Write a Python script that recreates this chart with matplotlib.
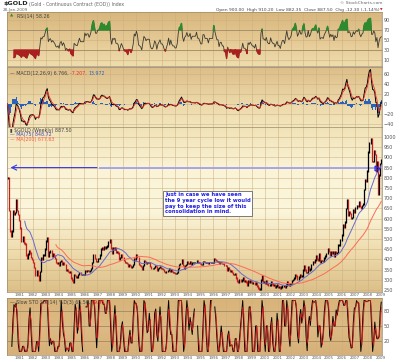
import numpy as np
import pandas as pd
import matplotlib

matplotlib.use("Agg")
import matplotlib.pyplot as plt
from matplotlib.colors import LinearSegmentedColormap

# monthly closes, Jan 1980 .. Jan 2009
gold_1980s = [
    800, 640, 540, 515, 540, 640, 620, 630, 690, 640, 620, 590,
    555, 490, 510, 480, 475, 420, 405, 425, 440, 430, 410, 400,
    385, 360, 320, 345, 320, 300, 340, 410, 400, 420, 420, 450,
    490, 505, 415, 435, 440, 415, 425, 415, 405, 385, 380, 385,
    370, 390, 395, 375, 385, 375, 345, 350, 340, 335, 340, 310,
    300, 290, 325, 320, 315, 315, 325, 335, 325, 325, 325, 325,
    345, 340, 345, 345, 340, 345, 355, 385, 420, 405, 390, 390,
    405, 405, 420, 450, 455, 450, 460, 455, 460, 465, 485, 495,
    455, 430, 455, 450, 455, 435, 435, 430, 400, 410, 420, 410,
    395, 385, 385, 380, 365, 375, 370, 360, 365, 375, 405, 400,
]
gold_1990s = [
    420, 410, 375, 370, 365, 350, 370, 395, 390, 380, 385, 385,
    385, 365, 355, 355, 360, 370, 365, 345, 355, 360, 365, 355,
    355, 350, 340, 335, 340, 345, 355, 340, 350, 340, 335, 335,
    330, 330, 335, 355, 375, 380, 400, 370, 355, 370, 375, 390,
    380, 380, 390, 375, 385, 385, 385, 385, 395, 385, 385, 380,
    375, 375, 390, 390, 385, 385, 385, 380, 385, 385, 385, 385,
    405, 400, 395, 390, 390, 380, 385, 385, 380, 380, 370, 370,
    345, 360, 350, 340, 345, 335, 325, 325, 330, 310, 295, 290,
    300, 295, 300, 310, 295, 295, 290, 275, 295, 290, 295, 290,
    285, 285, 280, 285, 270, 260, 255, 255, 300, 320, 290, 290,
]
gold_2000s = [
    285, 295, 280, 275, 275, 290, 280, 275, 275, 265, 270, 275,
    265, 265, 258, 265, 270, 270, 265, 275, 290, 280, 275, 278,
    282, 297, 302, 308, 326, 318, 305, 312, 325, 318, 318, 347,
    367, 348, 335, 336, 364, 346, 354, 375, 388, 386, 398, 416,
    403, 397, 425, 388, 394, 395, 392, 407, 416, 428, 452, 438,
    422, 435, 428, 435, 418, 437, 430, 433, 470, 470, 495, 518,
    570, 556, 582, 650, 690, 615, 633, 625, 600, 605, 645, 632,
    652, 665, 662, 680, 660, 650, 665, 672, 743, 790, 785, 834,
    925, 970, 990, 880, 880, 930, 915, 830, 880, 720, 815, 870,
    890,
]

year_ticks = list(range(1981, 2010))
price_ticks = list(range(250, 1001, 50))
rsi_ticks = [10, 30, 50, 70, 90]
macd_ticks = [-40, -20, 0, 20, 40, 60]
sto_ticks = [20, 50, 80]

close = pd.Series(gold_1980s + gold_1990s + gold_2000s, dtype=float)
t = 1980 + (np.arange(len(close)) + 0.5) / 12

# indicators (monthly stand-ins for the weekly settings)
ma75 = close.rolling(17).mean()
ma200 = close.rolling(46).mean()
diff = close.diff()
up = diff.clip(lower=0).ewm(alpha=1 / 7, adjust=False).mean()
dn = (-diff.clip(upper=0)).ewm(alpha=1 / 7, adjust=False).mean()
rsi = (100 - 100 / (1 + up / dn)).to_numpy()
rsi[:6] = np.nan  # warm-up
macd = close.ewm(span=4, adjust=False).mean() - close.ewm(span=8, adjust=False).mean()
signal = macd.ewm(span=3, adjust=False).mean()
hist = macd - signal
lo = close.rolling(4).min()
hi = close.rolling(4).max()
fast_k = 100 * (close - lo) / (hi - lo)
slow_k = fast_k.rolling(2).mean()
slow_d = slow_k.rolling(2).mean()

fig = plt.figure(figsize=(4.0, 3.62), dpi=100)
fig.patch.set_facecolor("white")


def box(top, bottom):
    return [7 / 400, 1 - bottom / 362, 375 / 400, (bottom - top) / 362]


def paint(ax, colors):
    cmap = LinearSegmentedColormap.from_list("bg", colors)
    grad = np.linspace(0, 1, 256).reshape(-1, 1)
    ax.imshow(grad, cmap=cmap, extent=(0, 1, 0, 1), transform=ax.transAxes,
              aspect="auto", origin="upper", zorder=0)


def style(ax, ticks, ylim, xlabels=False):
    ax.set_xlim(1980.0, 2009.1)
    ax.set_ylim(*ylim)
    ax.set_yticks(ticks)
    ax.set_xticks(year_ticks)
    ax.yaxis.tick_right()
    ax.tick_params(length=0, labelsize=3.5, colors="#555555", pad=1.2)
    ax.tick_params(axis="x", labelsize=2.9, pad=0.8)
    if not xlabels:
        ax.set_xticklabels([])
    ax.grid(True, color="#c9ae7e", lw=0.5, alpha=0.7)
    for s in ax.spines.values():
        s.set_color("#9a8a6a")
        s.set_linewidth(0.5)


ax_rsi = fig.add_axes(box(12, 66))
ax_macd = fig.add_axes(box(67, 127))
ax_px = fig.add_axes(box(127, 292))
ax_sto = fig.add_axes(box(298, 355))

# RSI panel
paint(ax_rsi, ["#d8b67c", "#e4c893", "#efdcad"])
ax_rsi.plot(t, rsi, color="#3a3a30", lw=0.6, zorder=3)
ax_rsi.fill_between(t, rsi, 70, where=rsi > 70, interpolate=True, color="#2f8a2f", zorder=3)
ax_rsi.fill_between(t, rsi, 30, where=rsi < 30, interpolate=True, color="#a82020", zorder=3)
for lvl in (30, 70):
    ax_rsi.axhline(lvl, color="#a08a66", lw=0.6, zorder=2)
style(ax_rsi, rsi_ticks, (-2, 106))
ax_rsi.text(0.008, 0.97, "\u25b2", transform=ax_rsi.transAxes, fontsize=3.0,
            color="#2f8a2f", va="top", zorder=5)
ax_rsi.text(0.026, 0.97, "RSI(14) 58.26", transform=ax_rsi.transAxes, fontsize=3.4,
            color="#444444", va="top", zorder=5)

# MACD panel
paint(ax_macd, ["#dcbd86", "#ead4a4", "#f3e6bd"])
ax_macd.bar(t, hist, width=1 / 12, color="#2a62b8", zorder=2)
ax_macd.plot(t, macd, color="black", lw=0.7, zorder=3)
ax_macd.plot(t, signal, color="#e8302a", lw=0.6, zorder=3)
style(ax_macd, macd_ticks, (-46, 74))
m1 = ax_macd.text(0.008, 0.93, "\u2014 MACD(12,26,9) 6.766, ", transform=ax_macd.transAxes,
                  fontsize=3.4, color="#444444", va="top", zorder=5)
m2 = ax_macd.annotate("-7.207, ", xy=(1, 0), xycoords=m1, fontsize=3.4, color="#e8302a",
                      va="bottom", zorder=5)
ax_macd.annotate("13.972", xy=(1, 0), xycoords=m2, fontsize=3.4, color="#2a62b8",
                 va="bottom", zorder=5)

# price panel
paint(ax_px, ["#f1e3b8", "#faf3d6", "#fbf6dc", "#efdcae", "#dcbf88"])
c = close.to_numpy()
prev = np.r_[c[0], c[:-1]]
cols = np.where(c >= prev, "black", "#c81e1e")
ax_px.vlines(t, np.minimum(prev, c) - 4, np.maximum(prev, c) + 4, colors=cols, lw=0.9, zorder=3)
ax_px.plot(t, ma75, color="#6a6acb", lw=0.7, zorder=4)
ax_px.plot(t, ma200, color="#ff6a55", lw=0.7, zorder=4)
style(ax_px, price_ticks, (240, 1049), xlabels=True)

# the 1980 high, carried across
ax_px.annotate("", xy=(1980.05, 850), xytext=(1987.2, 850),
               arrowprops=dict(arrowstyle="->", color="#3a3ae6", lw=0.8, mutation_scale=9),
               zorder=5)
ax_px.plot([1987.2, 2008.6], [850, 850], color="#a4a4ea", lw=1.4, zorder=2)
ax_px.plot([2008.75], [850], marker=">", ms=3.5, mfc="none", mec="#2a2aee", mew=0.9, zorder=6)
ax_px.text(1992.25, 728,
           "Just in case we have seen\nthe 9 year cycle low it would\npay to keep the size of this\nconsolidation in mind.",
           fontsize=3.8, color="#2020e0", fontweight="bold", va="top", ha="left", linespacing=1.15,
           bbox=dict(boxstyle="square,pad=0.35", fc="white", ec="#666666", lw=0.6), zorder=7)

ax_px.text(0.008, 0.995, "\u25ae $GOLD (Weekly) 887.50", transform=ax_px.transAxes, fontsize=3.4,
           color="#444444", va="top", zorder=5)
ax_px.text(0.008, 0.967, "\u2014 MA(75) 848.72", transform=ax_px.transAxes, fontsize=3.4,
           color="#4a4ab8", va="top", zorder=5)
ax_px.text(0.008, 0.939, "\u2014 MA(200) 677.63", transform=ax_px.transAxes, fontsize=3.4,
           color="#ff5a45", va="top", zorder=5)

# slow stochastics panel
paint(ax_sto, ["#d8b47a", "#deba84", "#d6b078"])
ax_sto.plot(t, slow_k, color="black", lw=0.7, zorder=3)
ax_sto.plot(t, slow_d, color="#d01c1c", lw=0.6, zorder=3)
for lvl in (20, 50, 80):
    ax_sto.axhline(lvl, color="#a08a66", lw=0.6, zorder=2)
style(ax_sto, sto_ticks, (-7, 105), xlabels=True)
s1 = ax_sto.text(0.008, 0.97, "\u2014 Slow STO %K(14) %D(3) 65.56, ", transform=ax_sto.transAxes,
                 fontsize=3.4, color="#444444", va="top", zorder=5)
ax_sto.annotate("79.90", xy=(1, 0), xycoords=s1, fontsize=3.4, color="#d01c1c",
                va="bottom", zorder=5)

# header
fig.text(0.008, 0.997, "$GOLD", fontsize=4.6, fontweight="bold", color="#222222", va="top")
fig.text(0.072, 0.995, "(Gold - Continuous Contract (EOD)) Index", fontsize=3.3,
         color="#666666", va="top")
fig.text(0.008, 0.978, "28-Jan-2009", fontsize=3.0, color="#666666", va="top")
fig.text(0.955, 0.997, "\u00a9 StockCharts.com", fontsize=3.2, color="#666666", va="top", ha="right")
fig.text(0.948, 0.978, "Open 900.00  High 910.20  Low 882.35  Close 887.50  Chg -12.30 (-1.14%)",
         fontsize=3.2, color="#444444", va="top", ha="right")
fig.text(0.951, 0.978, "\u25bc", fontsize=2.4, color="#c81e1e", va="top", ha="left")

fig.savefig("out.png", dpi=100, facecolor="white")
